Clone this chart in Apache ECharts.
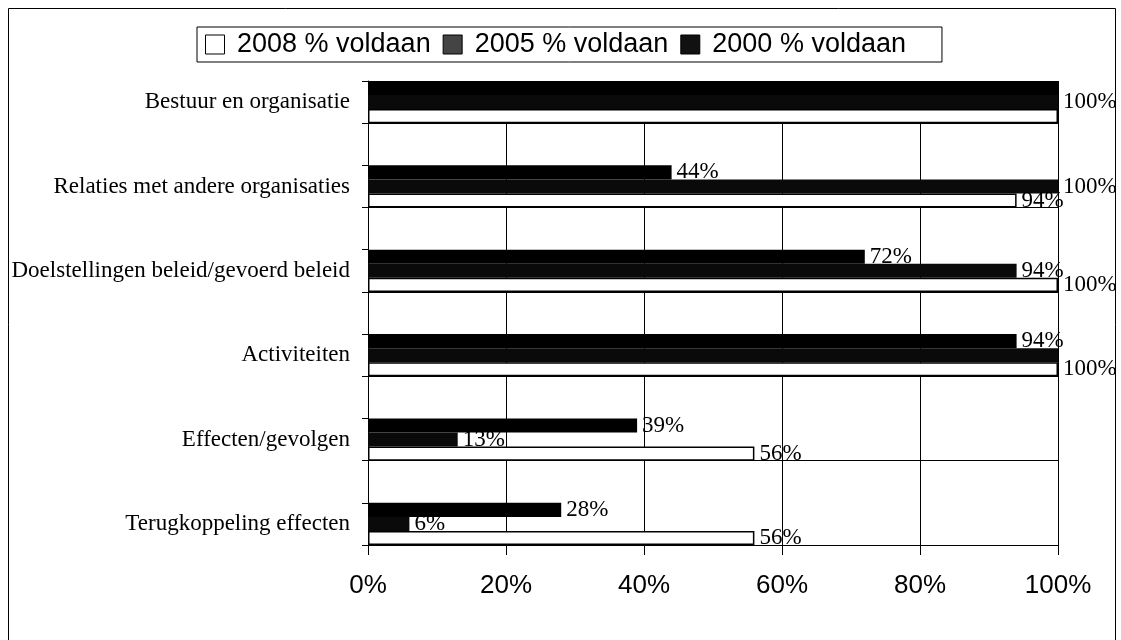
<!DOCTYPE html>
<html>
<head>
<meta charset="utf-8">
<script src="https://cdn.jsdelivr.net/npm/echarts@6/dist/echarts.min.js"></script>
<style>
html,body{margin:0;padding:0;background:#fff;}
#chart{width:1121px;height:640px;}
</style>
</head>
<body>
<div id="chart"></div>
<script>
// ---- data ----
const categories = [
  'Bestuur en organisatie',
  'Relaties met andere organisaties',
  'Doelstellingen beleid/gevoerd beleid',
  'Activiteiten',
  'Effecten/gevolgen',
  'Terugkoppeling effecten'
];
const seriesNames = ['2008 % voldaan', '2005 % voldaan', '2000 % voldaan'];
const v2008 = [100, 94, 100, 100, 56, 56];
const v2005 = [100, 100, 94, 100, 13, 6];
const v2000 = [100, 44, 72, 94, 39, 28];
const xTickValues = [0, 20, 40, 60, 80, 100];
// labels not printed in the original (overlapping 100% values)
const hiddenLabels = { '2008': [0], '2005': [3], '2000': [0] };

// ---- build axis with empty spacer categories between groups ----
const axisCats = [];
categories.forEach((c, i) => {
  axisCats.push(c);
  if (i < categories.length - 1) axisCats.push(' '.repeat(i + 1));
});
function build(vals, key) {
  const out = [];
  vals.forEach((v, i) => {
    const item = { value: v };
    if (hiddenLabels[key].indexOf(i) >= 0) item.label = { show: false };
    out.push(item);
    if (i < vals.length - 1) out.push('-');
  });
  return out;
}

const labelStyle = {
  show: true,
  position: 'right',
  distance: 5,
  formatter: '{c}%',
  color: '#000',
  fontFamily: 'Liberation Serif',
  fontSize: 23
};

const chart = echarts.init(document.getElementById('chart'), null, { renderer: 'canvas' });
chart.setOption({
  backgroundColor: '#fff',
  animation: false,
  graphic: [{
    type: 'rect',
    shape: { x: 8.5, y: 8.5, width: 1107, height: 700 },
    style: { fill: 'none', stroke: '#000', lineWidth: 1 },
    z: 100
  }],
  legend: {
    data: [
      { name: seriesNames[0], itemStyle: { color: '#fff', borderColor: '#000', borderWidth: 1 } },
      { name: seriesNames[1], itemStyle: { color: '#444', borderColor: '#000', borderWidth: 1 } },
      { name: seriesNames[2], itemStyle: { color: '#111', borderColor: '#000', borderWidth: 1 } }
    ],
    left: 197,
    top: 27,
    padding: [4, 36, 4, 8],
    itemGap: 12,
    itemWidth: 19,
    itemHeight: 19,
    icon: 'rect',
    backgroundColor: '#fff',
    borderColor: '#000',
    borderWidth: 1,
    formatter: n => ' ' + n,
    textStyle: { fontFamily: 'Liberation Sans', fontSize: 27, color: '#000' }
  },
  grid: { left: 368, right: 63, top: 81, bottom: 95, containLabel: false },
  xAxis: {
    type: 'value',
    min: 0,
    max: 100,
    interval: 20,
    axisLine: { show: true, lineStyle: { color: '#000', width: 1 } },
    axisTick: { show: true, length: 10, lineStyle: { color: '#000' } },
    axisLabel: {
      margin: 28,
      formatter: v => (xTickValues.indexOf(v) >= 0 ? v + '%' : ''),
      color: '#000',
      fontFamily: 'Liberation Sans',
      fontSize: 26
    },
    splitLine: { show: true, lineStyle: { color: '#000', width: 1 } }
  },
  yAxis: {
    type: 'category',
    inverse: true,
    data: axisCats,
    axisLine: { show: true, lineStyle: { color: '#000', width: 1 } },
    axisTick: { show: true, length: 6, interval: 0, lineStyle: { color: '#000' } },
    axisLabel: {
      interval: 0,
      margin: 18,
      color: '#000',
      fontFamily: 'Liberation Serif',
      fontSize: 23
    },
    splitLine: {
      show: true,
      interval: (i) => i % 2 === 1,
      lineStyle: { color: '#000', width: 1 }
    }
  },
  series: [
    {
      name: seriesNames[2], type: 'bar', data: build(v2000, '2000'),
      barGap: '0%', barCategoryGap: '0%',
      itemStyle: { color: '#000' },
      label: labelStyle
    },
    {
      name: seriesNames[1], type: 'bar', data: build(v2005, '2005'),
      barGap: '0%', barCategoryGap: '0%',
      itemStyle: { color: '#0a0a0a' },
      label: labelStyle
    },
    {
      name: seriesNames[0], type: 'bar', data: build(v2008, '2008'),
      barGap: '0%', barCategoryGap: '0%',
      itemStyle: { color: '#fff', borderColor: '#000', borderWidth: 1.5 },
      label: labelStyle
    }
  ]
});
</script>
</body>
</html>
